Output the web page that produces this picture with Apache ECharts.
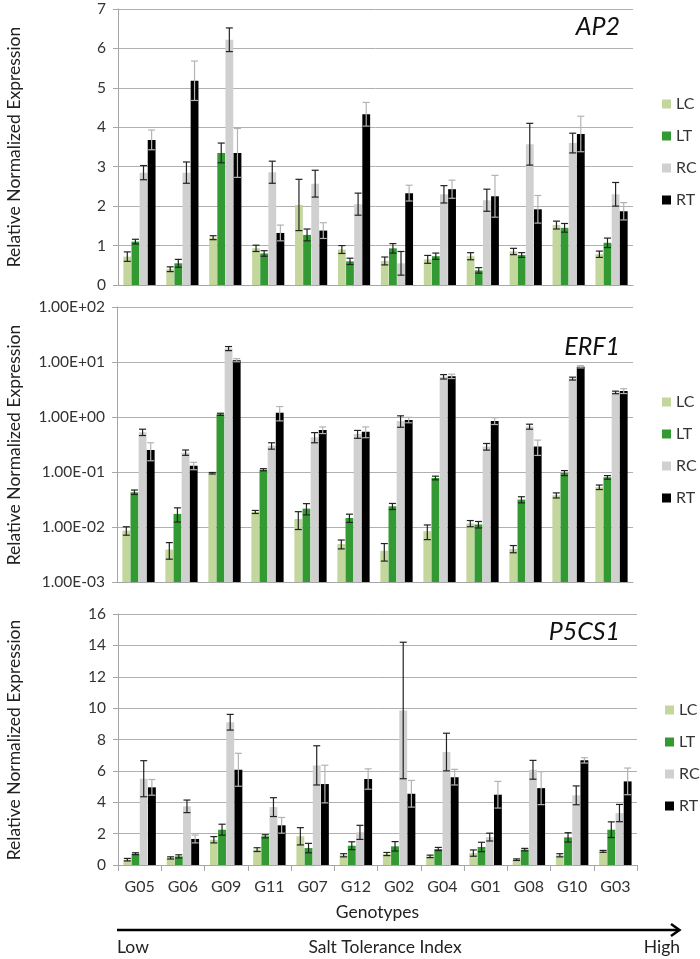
<!DOCTYPE html>
<html><head><meta charset="utf-8">
<script src="https://cdn.jsdelivr.net/npm/echarts@6/dist/echarts.min.js"></script>
<style>html,body{margin:0;padding:0;background:#fff}#c{width:700px;height:959px}</style>
</head><body><div id="c"></div>
<script>
const categories = ['G05','G06','G09','G11','G07','G12','G02','G04','G01','G08','G10','G03'];
const seriesNames = ['LC','LT','RC','RT'];

// AP2
const ap2_LC = [0.72,0.40,1.20,0.93,2.03,0.90,0.61,0.65,0.73,0.85,1.52,0.78];
const ap2_LC_err = [0.12,0.06,0.05,0.08,0.65,0.10,0.10,0.10,0.09,0.08,0.10,0.08];
const ap2_LT = [1.10,0.55,3.35,0.80,1.27,0.60,0.93,0.73,0.37,0.76,1.45,1.07];
const ap2_LT_err = [0.06,0.10,0.25,0.07,0.15,0.08,0.12,0.08,0.07,0.06,0.11,0.12];
const ap2_RC = [2.85,2.85,6.22,2.86,2.57,2.05,0.55,2.30,2.15,3.57,3.60,2.30];
const ap2_RC_err = [0.18,0.27,0.30,0.28,0.34,0.28,0.30,0.22,0.28,0.53,0.25,0.30];
const ap2_RT = [3.68,5.18,3.35,1.32,1.38,4.33,2.33,2.43,2.25,1.92,3.83,1.87];
const ap2_RT_err = [0.25,0.50,0.62,0.20,0.20,0.30,0.20,0.23,0.53,0.35,0.45,0.22];

// ERF1 (log scale)
const erf_LC = [0.0086,0.0039,0.095,0.0188,0.014,0.0049,0.0037,0.0084,0.0116,0.004,0.0377,0.053];
const erf_LC_err = [0.0015,0.0013,0.003,0.0012,0.005,0.0009,0.0013,0.0025,0.0015,0.0006,0.004,0.005];
const erf_LT = [0.043,0.0173,1.12,0.11,0.0216,0.0146,0.0238,0.078,0.0111,0.0315,0.096,0.08];
const erf_LT_err = [0.004,0.005,0.05,0.005,0.005,0.0025,0.003,0.006,0.0015,0.004,0.01,0.006];
const erf_RC = [0.53,0.226,17.6,0.30,0.43,0.49,0.85,5.4,0.29,0.67,5.0,2.8];
const erf_RC_err = [0.07,0.025,1.5,0.04,0.09,0.08,0.2,0.5,0.04,0.07,0.3,0.15];
const erf_RT = [0.25,0.13,10.8,1.2,0.58,0.54,0.885,5.5,0.85,0.29,8.2,2.97];
const erf_RT_err = [0.09,0.02,0.7,0.35,0.08,0.12,0.1,0.5,0.12,0.09,0.4,0.3];

// P5CS1
const p5_LC = [0.34,0.45,1.61,0.98,1.83,0.62,0.70,0.55,0.76,0.34,0.62,0.87];
const p5_LC_err = [0.08,0.07,0.20,0.12,0.55,0.10,0.10,0.08,0.20,0.05,0.10,0.06];
const p5_LT = [0.72,0.55,2.25,1.83,1.08,1.23,1.19,1.02,1.15,0.98,1.76,2.25];
const p5_LT_err = [0.06,0.10,0.35,0.10,0.30,0.25,0.30,0.10,0.30,0.08,0.30,0.50];
const p5_RC = [5.5,3.74,9.1,3.69,6.35,2.08,9.85,7.2,1.78,6.07,4.44,3.31];
const p5_RC_err = [1.15,0.40,0.50,0.60,1.25,0.45,4.35,1.2,0.25,0.60,0.60,0.55];
const p5_RT = [4.95,1.66,6.07,2.53,5.16,5.48,4.54,5.6,4.48,4.9,6.67,5.33];
const p5_RT_err = [0.5,0.25,1.05,0.5,1.2,0.65,0.85,0.5,0.85,1.05,0.17,0.85];

const colors = ['#c3d69b','#339933','#d0d0d0','#000000'];
const errColors = ['#222222','#222222','#222222','#b3b3b3'];
const FONT = 'Lato, "Open Sans", sans-serif';
const BAR_GAP = 0.04, CAT_GAP = 0.25;

const panels = [
  {vals:[ap2_LC,ap2_LT,ap2_RC,ap2_RT], errs:[ap2_LC_err,ap2_LT_err,ap2_RC_err,ap2_RT_err], log:false},
  {vals:[erf_LC,erf_LT,erf_RC,erf_RT], errs:[erf_LC_err,erf_LT_err,erf_RC_err,erf_RT_err], log:true},
  {vals:[p5_LC,p5_LT,p5_RC,p5_RT], errs:[p5_LC_err,p5_LT_err,p5_RC_err,p5_RT_err], log:false}
];

function makeErr(s, isLog, color){
  return function(params, api){
    const cat = api.value(0), v = api.value(1), e = api.value(2);
    const bw = api.size([1,0])[0];
    const n = 4;
    const w = (bw*(1-CAT_GAP) - BAR_GAP)/(n+(n-1)*BAR_GAP);
    const total = n*w + (n-1)*BAR_GAP*w;
    const cx = api.coord([cat, v])[0] - total/2 + s*w*(1+BAR_GAP) + w/2;
    let lo = v - e;
    if (isLog && lo < 0.0011) lo = 0.0011;
    const yT = api.coord([cat, v+e])[1], yB = api.coord([cat, lo])[1];
    const cap = 3.5;
    const st = {stroke: color, lineWidth: 1.2};
    return {type:'group', children:[
      {type:'line', shape:{x1:cx,y1:yT,x2:cx,y2:yB}, style:st},
      {type:'line', shape:{x1:cx-cap,y1:yT,x2:cx+cap,y2:yT}, style:st},
      {type:'line', shape:{x1:cx-cap,y1:yB,x2:cx+cap,y2:yB}, style:st}
    ]};
  };
}

function sciFmt(v){
  const ex = Math.round(Math.log10(v));
  const sign = ex < 0 ? '-' : '+';
  const a = Math.abs(ex);
  return '1.00E' + sign + (a < 10 ? '0' + a : a);
}

const grids = [
  {left:118, top:9, width:515, height:276},
  {left:117, top:307, width:516, height:275},
  {left:118, top:614, width:519, height:251}
];

const gridLine = {show:true, lineStyle:{color:'#b0b0b0', width:1}};
const axisLine = {show:true, lineStyle:{color:'#a6a6a6', width:1}};
const labelStyle = {fontSize:15.5, color:'#333', fontFamily:FONT};

const xAxes = grids.map((g,i)=>({
  type:'category', gridIndex:i, data:categories,
  axisLine: axisLine,
  axisTick: {show: i===2, length:6, lineStyle:{color:'#a6a6a6'}},
  axisLabel: Object.assign({show: i===2, margin:14}, labelStyle, {fontSize:16}),
  name: i===2 ? 'Genotypes' : '',
  nameLocation:'middle', nameGap:38,
  nameTextStyle:{fontSize:17.5, color:'#222', fontFamily:FONT}
}));

const yAxes = [
  {type:'value', gridIndex:0, min:0, max:7, interval:1},
  {type:'log', gridIndex:1, min:0.001, max:100, logBase:10, startValue:0.001,
   axisLabel:{formatter: sciFmt}},
  {type:'value', gridIndex:2, min:0, max:16, interval:2}
].map(a=>Object.assign({
  axisLine: axisLine,
  axisTick:{show:true, length:5, lineStyle:{color:'#a6a6a6'}},
  splitLine: gridLine
}, a, {axisLabel: Object.assign({margin:12}, labelStyle, a.axisLabel||{})}));

const series = [];
panels.forEach((p, pi)=>{
  p.vals.forEach((vals, s)=>{
    series.push({
      type:'bar', name:seriesNames[s], xAxisIndex:pi, yAxisIndex:pi,
      data: vals, itemStyle:{color:colors[s]},
      barGap: (BAR_GAP*100)+'%', barCategoryGap:(CAT_GAP*100)+'%'
    });
  });
  p.vals.forEach((vals, s)=>{
    series.push({
      type:'custom', name:'err_'+pi+'_'+s, xAxisIndex:pi, yAxisIndex:pi,
      data: vals.map((v,i)=>[i, v, p.errs[s][i]]),
      encode:{x:0, y:1}, z:5, silent:true,
      renderItem: makeErr(s, p.log, errColors[s])
    });
  });
});

const legendTops = [91, 389, 697];
const legendLefts = [657, 657, 660];
const legends = legendTops.map((t,i)=>({
  data: seriesNames, orient:'vertical', left:legendLefts[i], top:t,
  icon:'rect', itemWidth:9, itemHeight:9, itemGap:16,
  textStyle:{fontSize:16, color:'#333', fontFamily:FONT},
  selectedMode:false
}));

const titles = [['AP2', 27], ['ERF1', 347], ['P5CS1', 632]];
const yNameCenters = [147, 445, 740];
const graphic = [];
titles.forEach(t=>graphic.push({type:'text', x:620, y:t[1], style:{
  text:t[0], textAlign:'right', textVerticalAlign:'middle',
  font:'italic 25px ' + FONT, fill:'#111'}}));
yNameCenters.forEach(c=>graphic.push({type:'text', x:14, y:c, rotation:Math.PI/2, style:{
  text:'Relative Normalized Expression', textAlign:'center', textVerticalAlign:'middle',
  font:'17.5px ' + FONT, fill:'#222'}}));
graphic.push({type:'line', shape:{x1:117, y1:930, x2:679, y2:930}, style:{stroke:'#000', lineWidth:2.5}});
graphic.push({type:'polyline', shape:{points:[[671,924],[679.5,930],[671,936]]}, style:{stroke:'#000', lineWidth:2.5, fill:null}});
graphic.push({type:'text', x:117, y:947, style:{text:'Low', textAlign:'left', textVerticalAlign:'middle', font:'17.5px '+FONT, fill:'#222'}});
graphic.push({type:'text', x:385, y:947, style:{text:'Salt Tolerance Index', textAlign:'center', textVerticalAlign:'middle', font:'17.5px '+FONT, fill:'#222'}});
graphic.push({type:'text', x:680, y:947, style:{text:'High', textAlign:'right', textVerticalAlign:'middle', font:'17.5px '+FONT, fill:'#222'}});

const chart = echarts.init(document.getElementById('c'), null, {renderer:'canvas'});
chart.setOption({
  animation:false,
  backgroundColor:'#fff',
  grid: grids,
  xAxis: xAxes,
  yAxis: yAxes,
  legend: legends,
  series: series,
  graphic: graphic
});
</script></body></html>
